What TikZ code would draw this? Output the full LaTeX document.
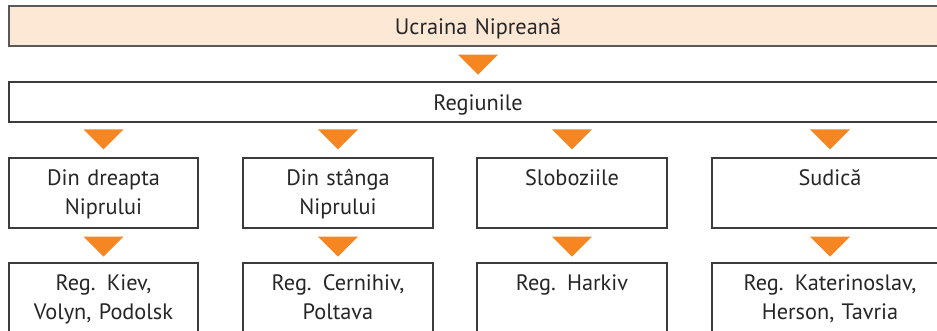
\documentclass[tikz,border=0pt]{standalone}
\usepackage{fontspec}
\setmainfont{PT Sans}
\usetikzlibrary{calc}
\definecolor{peach}{RGB}{253,232,214}
\definecolor{arroworange}{RGB}{245,134,34}
\definecolor{linegrey}{RGB}{60,60,60}
\tikzset{
  box/.style={draw=linegrey, line width=1.3pt, fill=white, inner sep=0pt},
  toptitle/.style={box, fill=peach, draw=linegrey!85},
  lbl/.style={anchor=base, font=\fontsize{22.3}{29}\selectfont, text=black!85, inner sep=0pt, align=center, text width=234pt},
  tri/.style={fill=arroworange}
}
\newcommand{\downtri}[1]{\fill[tri] ($(#1)+(-20pt,-8pt)$) -- ($(#1)+(20pt,-8pt)$) -- ($(#1)+(0pt,-28pt)$) -- cycle;}
\begin{document}
\begin{tikzpicture}[x=1pt,y=-1pt]
\useasboundingbox (0,0) rectangle (937,330);
\clip (0,0) rectangle (937,330);
% top boxes
\node[toptitle, minimum width=938pt, minimum height=40pt] (top) at (478,26) {};
\node[lbl] (toptxt) at ($(top.center)+(0,-8pt)$) {Ucraina Nipreană};
\node[box, minimum width=938pt, minimum height=40pt] (reg) at (478,102) {};
\node[lbl] (regtxt) at ($(reg.center)+(0,-8pt)$) {Regiunile};
% column row 1
\node[box, minimum width=189pt, minimum height=70pt] (c1) at (103.5,193) {};
\node[box, minimum width=190pt, minimum height=70pt] (c2) at (338,193) {};
\node[box, minimum width=190pt, minimum height=70pt] (c3) at (572,193) {};
\node[box, minimum width=236pt, minimum height=70pt] (c4) at (830,193) {};
% column row 2
\node[box, minimum width=189pt, minimum height=80pt] (d1) at (103.5,303) {};
\node[box, minimum width=190pt, minimum height=80pt] (d2) at (338,303) {};
\node[box, minimum width=190pt, minimum height=80pt] (d3) at (572,303) {};
\node[box, minimum width=236pt, minimum height=80pt] (d4) at (830,303) {};
% labels
\node[lbl] (c1t) at ($(c1.north)+(0,-28pt)$) {Din dreapta\\Niprului};
\node[lbl] (c2t) at ($(c2.north)+(0,-28pt)$) {Din stânga\\Niprului};
\node[lbl] (c3t) at ($(c3.north)+(0,-28pt)$) {Sloboziile};
\node[lbl] (c4t) at ($(c4.north)+(0,-28pt)$) {Sudică};
\node[lbl] (d1t) at ($(d1.north)+(0,-28pt)$) {Reg. Kiev,\\Volyn, Podolsk};
\node[lbl] (d2t) at ($(d2.north)+(0,-28pt)$) {Reg. Cernihiv,\\Poltava};
\node[lbl] (d3t) at ($(d3.north)+(0,-28pt)$) {Reg. Harkiv};
\node[lbl] (d4t) at ($(d4.north)+(0,-28pt)$) {Reg. Katerinoslav,\\Herson, Tavria};
% arrows
\downtri{top.south}
\coordinate (a1) at ($(c1.north)+(0,36pt)$);
\coordinate (a2) at ($(c2.north)+(0,36pt)$);
\coordinate (a3) at ($(c3.north)+(0,36pt)$);
\coordinate (a4) at ($(c4.north)+(0,36pt)$);
\downtri{a1}\downtri{a2}\downtri{a3}\downtri{a4}
\downtri{c1.south}\downtri{c2.south}\downtri{c3.south}\downtri{c4.south}
\end{tikzpicture}
\end{document}
